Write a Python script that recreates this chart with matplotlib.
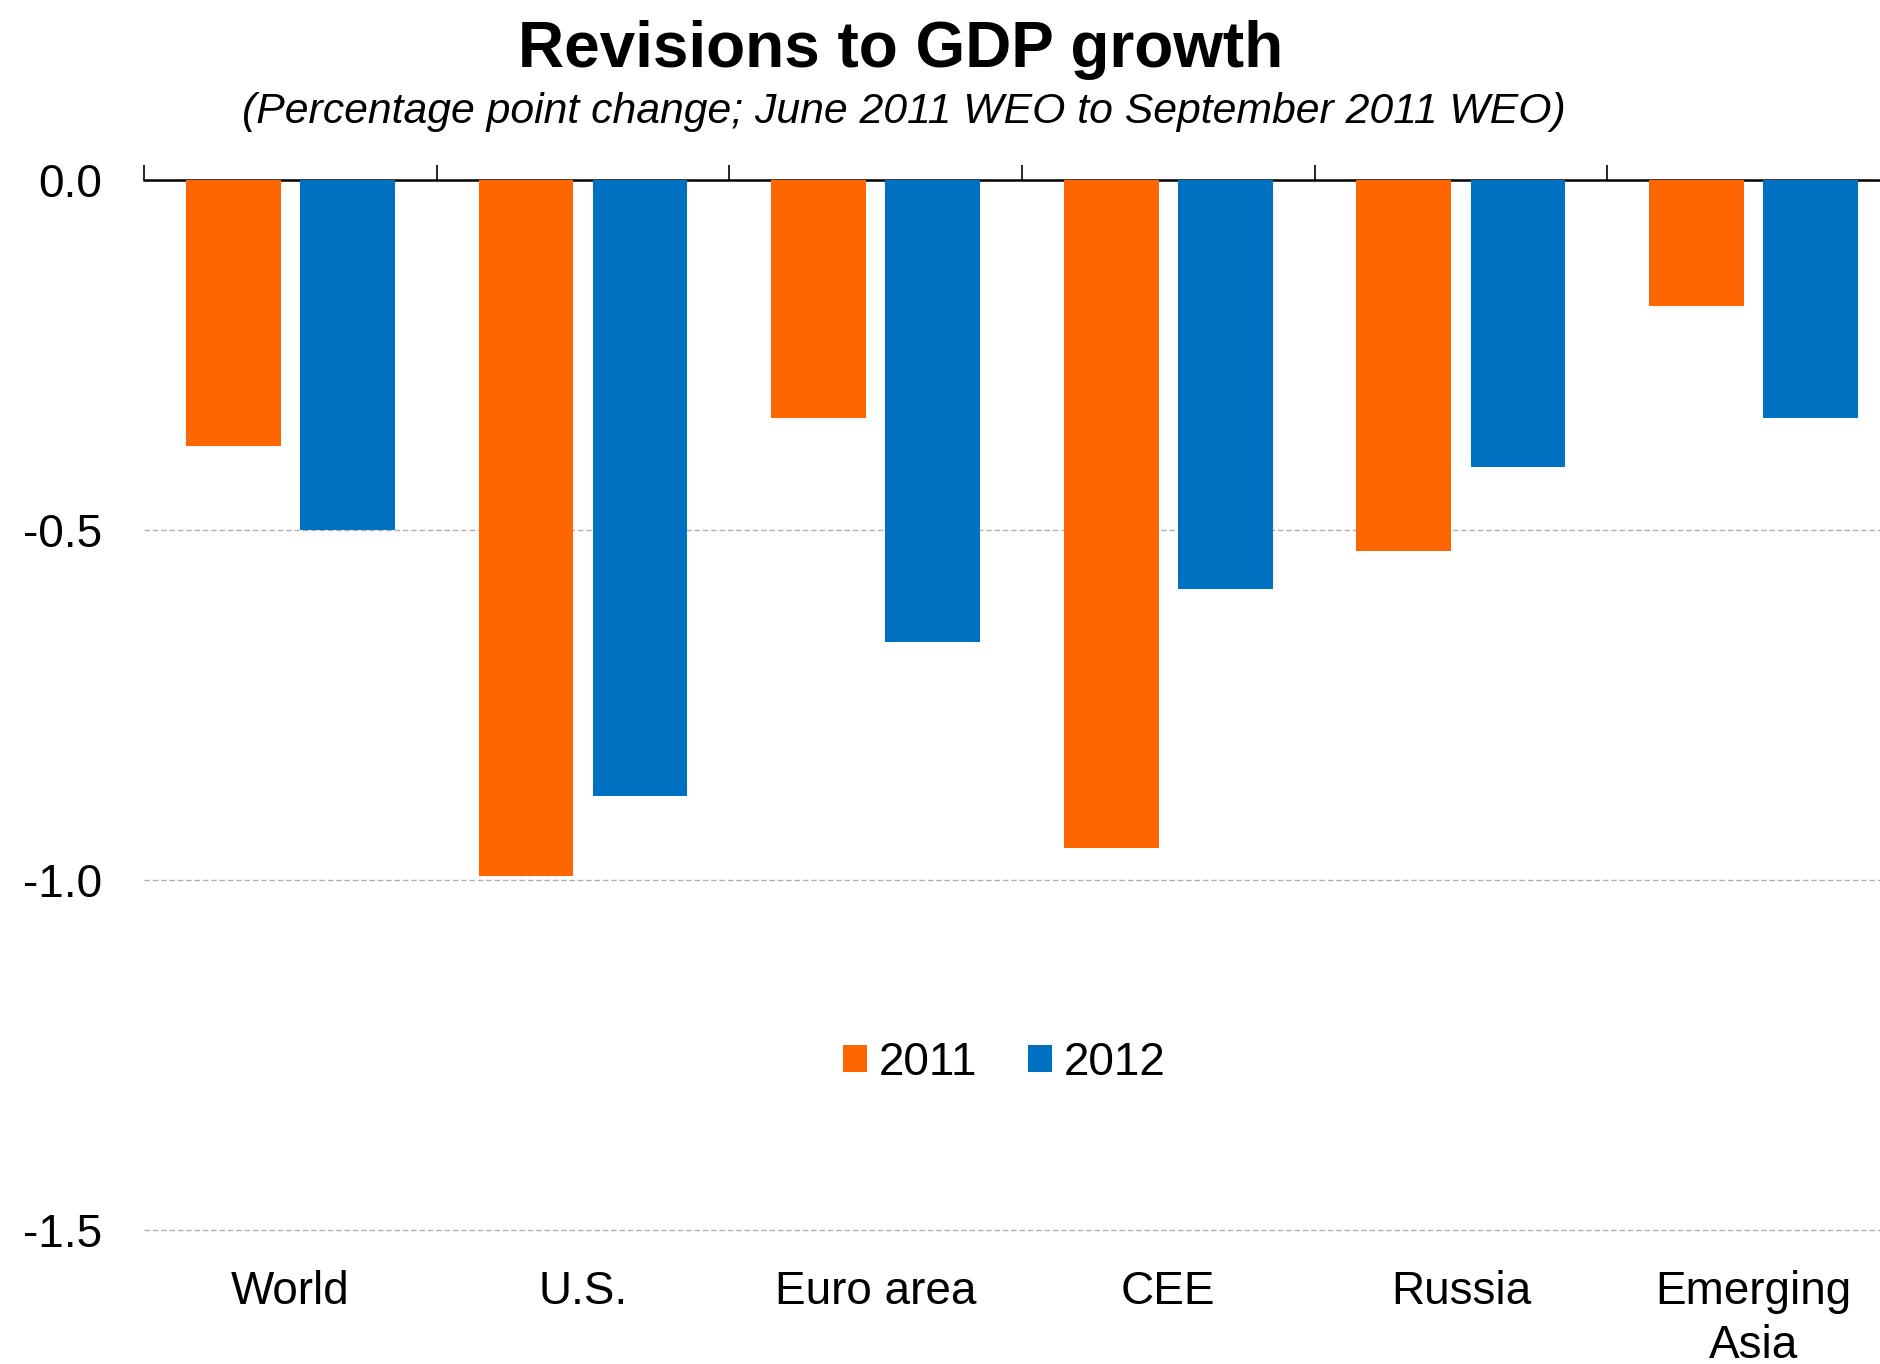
import numpy as np
import matplotlib.pyplot as plt
from matplotlib.patches import Patch
from matplotlib.ticker import FixedLocator

plt.rcParams["font.family"] = ["Liberation Sans", "DejaVu Sans"]

regions = ["World", "U.S.", "Euro area", "CEE", "Russia", "Emerging\nAsia"]
rev_2011 = [-0.38, -0.995, -0.34, -0.955, -0.53, -0.18]
rev_2012 = [-0.50, -0.88, -0.66, -0.585, -0.41, -0.34]

orange = "#FF6600"
blue = "#0070C0"

fig = plt.figure(figsize=(18.8, 13.64), dpi=100)
ax = fig.add_axes([0.0766, 0.0982, 0.934, 0.770])

x = np.arange(len(regions))
w = 0.324
ax.bar(x - 0.195, rev_2011, w, color=orange, zorder=3)
ax.bar(x + 0.195, rev_2012, w, color=blue, zorder=3)

ax.set_xlim(-0.5, len(regions) - 0.5)
ax.set_ylim(-1.5, 0.0)
ax.set_yticks([0.0, -0.5, -1.0, -1.5])
ax.set_yticklabels(["0.0", "-0.5", "-1.0", "-1.5"])
ax.tick_params(axis="y", length=0, pad=30, labelsize=33)

# category labels at the bottom, boundary ticks on the zero line
ax.set_xticks(x)
ax.set_xticklabels(regions, fontsize=33, linespacing=1.27, va="top")
ax.tick_params(axis="x", which="major", length=0, pad=29)
ax.xaxis.set_minor_locator(FixedLocator(np.arange(-0.5, len(regions), 1.0)))
ax.tick_params(axis="x", which="minor", bottom=False, top=True,
               direction="out", length=10.5, width=1.2, color="black")

for s in ["left", "right", "bottom"]:
    ax.spines[s].set_visible(False)
ax.spines["top"].set_linewidth(1.8)
ax.spines["top"].set_color("black")

for yv in [-0.5, -1.0, -1.5]:
    ax.axhline(yv, color="#b0b0b0", linestyle=(0, (4, 2)), linewidth=1.0,
               zorder=1, clip_on=False)

handles = [Patch(facecolor=orange), Patch(facecolor=blue)]
ax.legend(handles, ["2011", "2012"], loc="center", bbox_to_anchor=(0.49, 0.159),
          ncol=2, frameon=False, fontsize=33, handlelength=0.52, handleheight=0.52,
          handletextpad=0.26, columnspacing=1.1)

fig.text(0.479, 0.963, "Revisions to GDP growth", ha="center", va="center",
         fontsize=46, fontweight="bold")
fig.text(0.481, 0.918, "(Percentage point change; June 2011 WEO to September 2011 WEO)",
         ha="center", va="center", fontsize=30.8, style="italic")

fig.savefig("out.png", dpi=100, facecolor="white")
